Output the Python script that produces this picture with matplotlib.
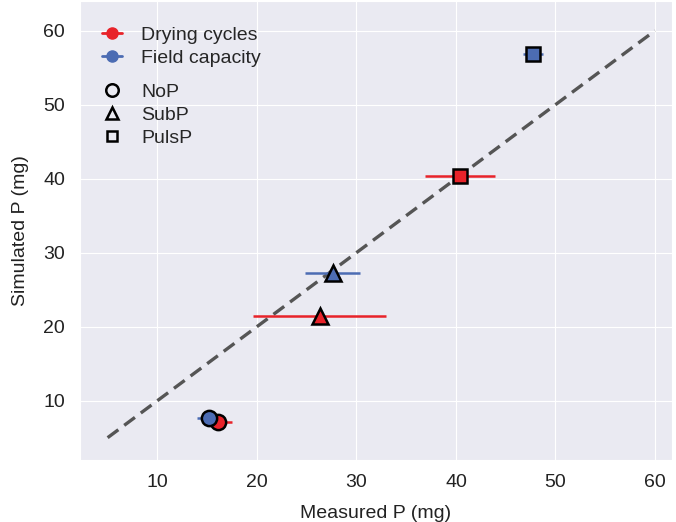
import numpy as np
import matplotlib.pyplot as plt
import seaborn as sns
from matplotlib.lines import Line2D

sns.set_style('darkgrid')
plt.rcParams['font.family'] = ['Liberation Sans', 'DejaVu Sans']

# measured (x), simulated (y), horizontal error on measured
treatments = ['NoP', 'SubP', 'PulsP']
markers = ['o', '^', 's']
dry_x = [16.1, 26.3, 40.4]
dry_y = [7.1, 21.4, 40.3]
dry_xerr = [1.4, 6.7, 3.5]
field_x = [15.2, 27.6, 47.7]
field_y = [7.7, 27.3, 56.9]
field_xerr = [1.2, 2.8, 1.0]

red = '#e8232a'
blue = '#4c6cb3'
fs = 14

fig = plt.figure(figsize=(6.76, 5.22), dpi=100)
ax = fig.add_axes([0.118, 0.119, 0.876, 0.879])

ax.plot([5, 60], [5, 60], ls='--', color='#555555', lw=2.4, dashes=(4, 2.2), zorder=2)

for xs, ys, errs, col in [(dry_x, dry_y, dry_xerr, red), (field_x, field_y, field_xerr, blue)]:
    for x, y, e, m in zip(xs, ys, errs, markers):
        ax.errorbar(x, y, xerr=e, fmt='none', ecolor=col, elinewidth=1.8, capsize=0, zorder=3)
        ms = {'o': 11, '^': 11, 's': 9.5}[m]
        ax.plot(x, y, marker=m, ms=ms, mfc=col, mec='black', mew=1.8, ls='none', zorder=4)

ax.set_xlim(2.2, 61.7)
ax.set_ylim(2.0, 64.0)
ax.set_xticks([10, 20, 30, 40, 50, 60])
ax.set_yticks([10, 20, 30, 40, 50, 60])
ax.tick_params(labelsize=fs, colors='#222222', pad=7)
ax.set_xlabel('Measured P (mg)', fontsize=fs, color='#222222', labelpad=10)
ax.set_ylabel('Simulated P (mg)', fontsize=fs, color='#222222', labelpad=10)

col_handles = [
    Line2D([], [], color=red, marker='o', ms=8, lw=2, mec=red),
    Line2D([], [], color=blue, marker='o', ms=8, lw=2, mec=blue),
]
leg1 = ax.legend(col_handles, ['Drying cycles', 'Field capacity'], loc='upper left',
                 frameon=False, fontsize=fs, handlelength=1.0, handletextpad=1.0,
                 labelspacing=0.3, bbox_to_anchor=(0.018, 0.971), borderaxespad=0.2)
ax.add_artist(leg1)

shape_handles = [
    Line2D([], [], ls='none', marker='o', ms=9, mfc='none', mec='black', mew=1.8),
    Line2D([], [], ls='none', marker='^', ms=9, mfc='none', mec='black', mew=1.8),
    Line2D([], [], ls='none', marker='s', ms=7.5, mfc='none', mec='black', mew=1.8),
]
ax.legend(shape_handles, treatments, loc='upper left', frameon=False, fontsize=fs,
          handlelength=1.0, handletextpad=1.0, labelspacing=0.28,
          bbox_to_anchor=(0.018, 0.846), borderaxespad=0.2)

fig.savefig('out.png', dpi=100)
